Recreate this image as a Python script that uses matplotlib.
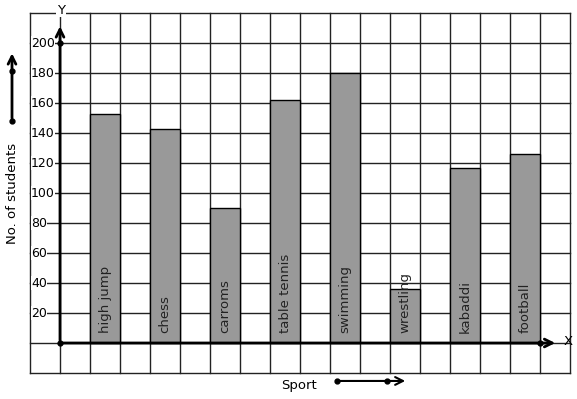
import numpy as np
import matplotlib
matplotlib.use('Agg')
import matplotlib.pyplot as plt

sports = ['high jump', 'chess', 'carroms', 'table tennis', 'swimming', 'wrestling', 'kabaddi', 'football']
students = [153, 143, 90, 162, 180, 36, 117, 126]
y_ticks = [20, 40, 60, 80, 100, 120, 140, 160, 180, 200]

# one grid square = 1 unit across, 20 students up
fig = plt.figure(figsize=(5.77, 3.99), dpi=100)
ax = fig.add_axes([0, 0, 1, 1])
ax.set_xlim(-2, 17.233)
ax.set_ylim(-37.33, 228.67)
ax.axis('off')

# squared paper
for gx in range(-1, 18):
    ax.plot([gx, gx], [-20, 220], color='#222222', lw=1, zorder=1)
for gy in range(-20, 221, 20):
    ax.plot([-1, 17], [gy, gy], color='#222222', lw=1, zorder=1)

pos = np.arange(len(sports)) * 2 + 1.5
ax.bar(pos, students, width=1, color='#999999', edgecolor='black', lw=1, zorder=2)
for x, name in zip(pos, sports):
    ax.text(x, 6.7, name, rotation=90, ha='center', va='bottom',
            fontsize=9.5, color='#222222', zorder=3)

# axes with arrows
ax.annotate('', xy=(0, 213), xytext=(0, 0),
            arrowprops=dict(arrowstyle='->', lw=2, color='black', mutation_scale=14), zorder=4)
ax.annotate('', xy=(16.6, 0), xytext=(0, 0),
            arrowprops=dict(arrowstyle='->', lw=2, color='black', mutation_scale=14), zorder=4)
ax.plot([0, 0, 16], [200, 0, 0], 'o', color='black', ms=3.5, zorder=5)
ax.text(0.03, 222, 'Y', ha='center', va='center', fontsize=9.5,
        bbox=dict(facecolor='white', edgecolor='none', pad=0.5), zorder=5)
ax.text(16.93, 0.7, 'X', ha='center', va='center', fontsize=9.5, zorder=5)

for v in y_ticks:
    ax.text(-0.97, v, str(v), ha='left', va='center', fontsize=9, zorder=3,
            bbox=dict(facecolor='white', edgecolor='none', pad=0.3))

# axis titles with little arrows
ax.text(-1.6, 100, 'No. of students', rotation=90, ha='center', va='center', fontsize=9.5)
ax.annotate('', xy=(-1.6, 195), xytext=(-1.6, 148),
            arrowprops=dict(arrowstyle='->', lw=2, color='black', mutation_scale=14))
ax.plot([-1.6, -1.6], [181.3, 148], 'o', color='black', ms=3.5)

ax.text(7.95, -28, 'Sport', ha='center', va='center', fontsize=9.5)
ax.annotate('', xy=(11.6, -25.3), xytext=(9.23, -25.3),
            arrowprops=dict(arrowstyle='->', lw=1.5, color='black', mutation_scale=14))
ax.plot([9.23, 10.9], [-25.3, -25.3], 'o', color='black', ms=3.5)

fig.savefig('out.png', dpi=100)
